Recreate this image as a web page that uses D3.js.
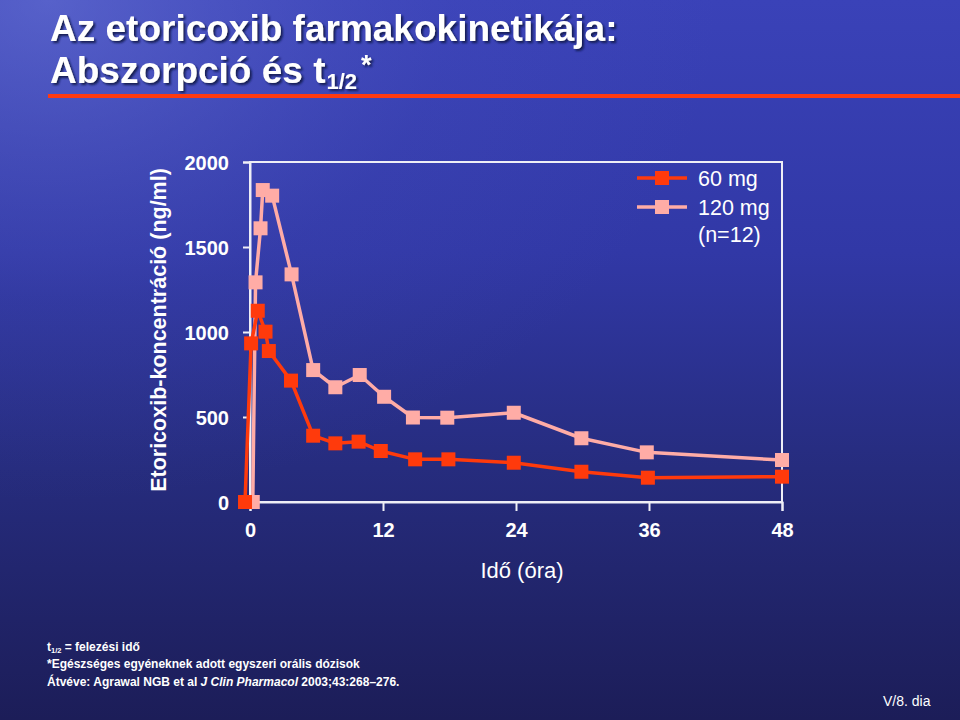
<!DOCTYPE html>
<html>
<head>
<meta charset="utf-8">
<script src="https://cdn.jsdelivr.net/npm/d3@7"></script>
<style>
  html, body { margin: 0; padding: 0; background: #22287a; }
  svg { display: block; font-family: "Liberation Sans", Arial, sans-serif; }
</style>
</head>
<body>
<svg id="chart" width="960" height="720"></svg>
<script>
// ---- data ----
const seriesNames = ["60 mg", "120 mg"];
const times60 = [-0.45, 0.1, 0.7, 1.4, 1.7, 3.7, 5.7, 7.7, 9.8, 11.8, 14.9, 17.9, 23.8, 29.9, 35.9, 48];
const conc60 = [0, 933, 1125, 1002, 888, 714, 390, 345, 355, 300, 251, 251, 231, 178, 143, 149];
const times120 = [0.25, 0.5, 0.95, 1.15, 2, 3.75, 5.7, 7.7, 9.9, 12.1, 14.7, 17.8, 23.8, 29.9, 35.8, 48];
const conc120 = [0, 1292, 1610, 1835, 1802, 1339, 776, 675, 747, 619, 497, 496, 525, 375, 292, 247];
const xTicks = [0, 12, 24, 36, 48];
const yTicks = [0, 500, 1000, 1500, 2000];
const titleLine1 = "Az etoricoxib farmakokinetikája:";
const titleLine2 = "Abszorpció és t";
const xLabel = "Idő (óra)";
const yLabel = "Etoricoxib-koncentráció (ng/ml)";
const legendNote = "(n=12)";

// ---- setup ----
const W = 960, H = 720;
const svg = d3.select("#chart");
const defs = svg.append("defs");

const lg = defs.append("linearGradient").attr("id", "bg").attr("x1", 0).attr("y1", 0).attr("x2", 0).attr("y2", 1);
lg.append("stop").attr("offset", "0%").attr("stop-color", "#3a42b8");
lg.append("stop").attr("offset", "35%").attr("stop-color", "#3138a6");
lg.append("stop").attr("offset", "65%").attr("stop-color", "#262c7e");
lg.append("stop").attr("offset", "100%").attr("stop-color", "#1c1d58");
svg.append("rect").attr("width", W).attr("height", H).attr("fill", "url(#bg)");

const rg = defs.append("radialGradient").attr("id", "glow").attr("cx", "0.05").attr("cy", "0.0").attr("r", "0.7");
rg.append("stop").attr("offset", "0%").attr("stop-color", "#7480dc").attr("stop-opacity", 0.5);
rg.append("stop").attr("offset", "60%").attr("stop-color", "#5a64c8").attr("stop-opacity", 0.1);
rg.append("stop").attr("offset", "100%").attr("stop-color", "#5a64c8").attr("stop-opacity", 0);
svg.append("rect").attr("width", W).attr("height", H).attr("fill", "url(#glow)");

const sh = defs.append("filter").attr("id", "shadow").attr("x", "-5%").attr("y", "-20%").attr("width", "110%").attr("height", "140%");
sh.append("feDropShadow").attr("dx", 2).attr("dy", 2).attr("stdDeviation", 0.8)
  .attr("flood-color", "#10124a").attr("flood-opacity", 0.9);

// ---- title ----
const tg = svg.append("g").attr("fill", "#ffffff").attr("font-weight", "bold").attr("font-size", 37)
  .attr("filter", "url(#shadow)");
tg.append("text").attr("x", 50).attr("y", 41).text(titleLine1);
const t2 = tg.append("text").attr("x", 50).attr("y", 83);
t2.append("tspan").text(titleLine2);
t2.append("tspan").attr("font-size", 22).attr("dy", 6).attr("dx", 1).text("1/2");
t2.append("tspan").attr("font-size", 27).attr("dy", -15).attr("dx", 4).text("*");

// red rule under title
svg.append("rect").attr("x", 48).attr("y", 94).attr("width", W - 48).attr("height", 4).attr("fill", "#ff3a10");

// ---- chart ----
const x = d3.scaleLinear().domain([0, 48]).range([250, 782]);
const y = d3.scaleLinear().domain([0, 2000]).range([502, 162]);
const axisColor = "#eeeef6";

// frame
svg.append("rect").attr("x", x(0)).attr("y", y(2000))
  .attr("width", x(48) - x(0)).attr("height", y(0) - y(2000))
  .attr("fill", "none").attr("stroke", axisColor).attr("stroke-width", 2);

const xAxis = svg.append("g").attr("transform", `translate(0,${y(0)})`)
  .call(d3.axisBottom(x).tickValues(xTicks).tickSize(9).tickPadding(12).tickFormat(d3.format("d")));
const yAxis = svg.append("g").attr("transform", `translate(${x(0)},0)`)
  .call(d3.axisLeft(y).tickValues(yTicks).tickSize(7).tickPadding(14).tickFormat(d3.format("d")));
[xAxis, yAxis].forEach(a => {
  a.select(".domain").attr("stroke", axisColor).attr("stroke-width", 2);
  a.selectAll(".tick line").attr("stroke", axisColor).attr("stroke-width", 2);
  a.selectAll(".tick text").attr("fill", "#ffffff").attr("font-size", 20).attr("font-weight", "bold")
    .attr("font-family", "Liberation Sans, Arial, sans-serif");
});
yAxis.selectAll(".tick text").attr("dy", "0.36em");

svg.append("text").attr("x", 522).attr("y", 578).attr("text-anchor", "middle")
  .attr("fill", "#fff").attr("font-size", 22).text(xLabel);
svg.append("text").attr("transform", "translate(166,330) rotate(-90)").attr("text-anchor", "middle")
  .attr("fill", "#fff").attr("font-size", 21.5).attr("font-weight", "bold").text(yLabel);

// series
const series = [
  { name: seriesNames[1], t: times120, v: conc120, color: "#ffaca6" },
  { name: seriesNames[0], t: times60, v: conc60, color: "#ff3a0c" }
];
const line = d3.line().x(d => x(d[0])).y(d => y(d[1]));
const ms = 14;
series.forEach(s => {
  const pts = s.t.map((t, i) => [t, s.v[i]]);
  svg.append("path").attr("d", line(pts)).attr("fill", "none")
    .attr("stroke", s.color).attr("stroke-width", 3.5).attr("stroke-linejoin", "round");
  svg.append("g").selectAll("rect").data(pts).join("rect")
    .attr("x", d => x(d[0]) - ms / 2).attr("y", d => y(d[1]) - ms / 2)
    .attr("width", ms).attr("height", ms).attr("fill", s.color);
});

// legend
const legendItems = [
  { name: seriesNames[0], color: "#ff3a0c" },
  { name: seriesNames[1], color: "#ffaca6" }
];
const leg = svg.append("g");
legendItems.forEach((d, i) => {
  const cy = 178 + i * 29;
  leg.append("line").attr("x1", 637).attr("x2", 687).attr("y1", cy).attr("y2", cy)
    .attr("stroke", d.color).attr("stroke-width", 3.5);
  leg.append("rect").attr("x", 662 - ms / 2).attr("y", cy - ms / 2).attr("width", ms).attr("height", ms).attr("fill", d.color);
  leg.append("text").attr("x", 698).attr("y", cy + 8).attr("fill", "#fff").attr("font-size", 21.5).text(d.name);
});
leg.append("text").attr("x", 698).attr("y", 178 + 2 * 29 + 6).attr("fill", "#fff").attr("font-size", 21.5).text(legendNote);

// footnotes
const fn = svg.append("g").attr("fill", "#fff").attr("font-size", 12).attr("font-weight", "bold");
const f1 = fn.append("text").attr("x", 47).attr("y", 651);
f1.append("tspan").text("t");
f1.append("tspan").attr("font-size", 7.5).attr("dy", 2).text("1/2");
f1.append("tspan").attr("dy", -2).text(" = felezési idő");
fn.append("text").attr("x", 47).attr("y", 668).text("*Egészséges egyéneknek adott egyszeri orális dózisok");
const f3 = fn.append("text").attr("x", 47).attr("y", 686);
f3.append("tspan").text("Átvéve: Agrawal NGB et al ");
f3.append("tspan").attr("font-style", "italic").text("J Clin Pharmacol");
f3.append("tspan").text(" 2003;43:268–276.");

svg.append("text").attr("x", 883).attr("y", 706).attr("fill", "#fff").attr("font-size", 14).text("V/8. dia");
</script>
</body>
</html>
